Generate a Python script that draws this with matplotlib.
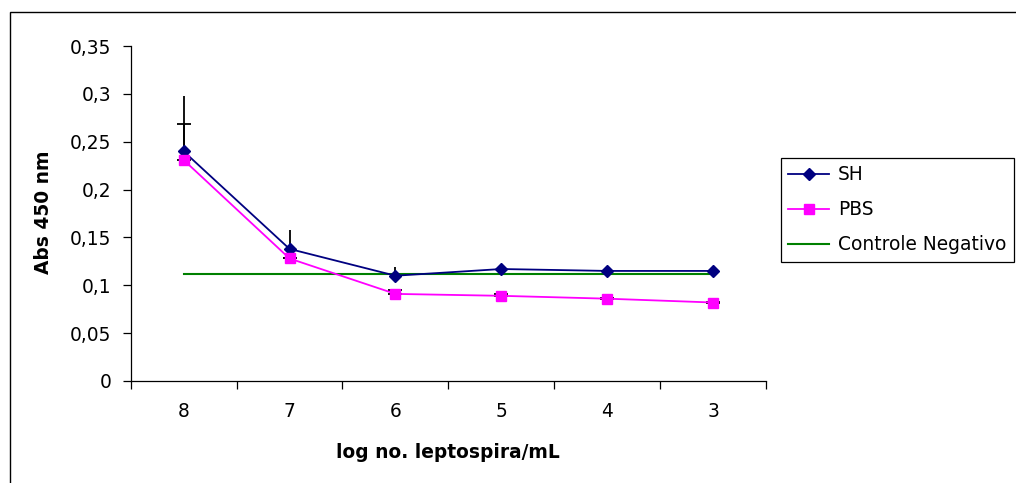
import matplotlib
matplotlib.use('Agg')
import matplotlib.pyplot as plt
from matplotlib.patches import Rectangle
import numpy as np

# ---- data ----
categories = ['8', '7', '6', '5', '4', '3']
sh_values = [0.240, 0.138, 0.110, 0.117, 0.115, 0.115]
sh_err_up = [0.058, 0.020, 0.009, 0.0, 0.0, 0.0]
pbs_values = [0.231, 0.128, 0.091, 0.089, 0.086, 0.082]
pbs_err_up = [0.037, 0.001, 0.004, 0.002, 0.001, 0.001]
control_values = [0.1115, 0.1115, 0.1115, 0.1115, 0.1115, 0.1115]
y_ticks = [0, 0.05, 0.1, 0.15, 0.2, 0.25, 0.3, 0.35]
y_tick_labels = ['0', '0,05', '0,1', '0,15', '0,2', '0,25', '0,3', '0,35']
series_names = ['SH', 'PBS', 'Controle Negativo']
x_label = 'log no. leptospira/mL'
y_label = 'Abs 450 nm'

plt.rcParams['font.family'] = ['DejaVu Sans']
FS = 13.4

W, H = 1016, 483
fig = plt.figure(figsize=(W / 100, H / 100), dpi=100)
ax = fig.add_axes([130.6 / W, 1 - 381 / H, (766.2 - 130.6) / W, (381 - 46) / H])

x = np.arange(len(categories))
zeros = np.zeros(len(categories))

ctrl_line, = ax.plot(x, control_values, color='#008000', lw=1.5, zorder=2)
ax.errorbar(x, sh_values, yerr=[zeros, sh_err_up], fmt='none', ecolor='black',
            elinewidth=1.3, capsize=0, zorder=3)
ax.errorbar(x, pbs_values, yerr=[zeros, pbs_err_up], fmt='none', ecolor='black',
            elinewidth=1.3, capsize=5, capthick=1.3, zorder=3)
sh_line, = ax.plot(x, sh_values, color='#000080', marker='D', ms=6, lw=1.3,
                   mec='#000080', zorder=4)
pbs_line, = ax.plot(x, pbs_values, color='#FF00FF', marker='s', ms=7, lw=1.3,
                    mec='#FF00FF', zorder=5)

ax.set_ylim(0, 0.35)
ax.set_yticks(y_ticks)
ax.set_yticklabels(y_tick_labels, fontsize=FS)
ax.set_xlim(-0.5, len(categories) - 0.5)
ax.set_xticks(np.arange(-0.5, len(categories), 1.0))
ax.set_xticklabels([])
ax.set_xticks(x, minor=True)
ax.set_xticklabels(categories, minor=True, fontsize=FS)
ax.tick_params(axis='x', which='major', direction='out', length=6, width=0.9, color='black')
ax.tick_params(axis='x', which='minor', length=0, pad=15)
ax.tick_params(axis='y', direction='out', length=6, width=0.9, color='black', pad=8)

for s in ['top', 'right']:
    ax.spines[s].set_visible(False)
for s in ['left', 'bottom']:
    ax.spines[s].set_color('black')
    ax.spines[s].set_linewidth(0.9)

fig.text(448 / W, 1 - 452 / H, x_label, ha='center', va='center',
         fontsize=FS, fontweight='bold')
fig.text(43.5 / W, 1 - 212.5 / H, y_label, ha='center', va='center',
         rotation=90, fontsize=FS, fontweight='bold')

leg = ax.legend([sh_line, pbs_line, ctrl_line], series_names,
                loc='upper left', bbox_to_anchor=(781 / W, 1 - 158 / H),
                bbox_transform=fig.transFigure, frameon=True, fancybox=False,
                edgecolor='black', framealpha=1, borderaxespad=0,
                handlelength=2.2, handletextpad=0.45, labelspacing=0.85,
                borderpad=0.4, fontsize=FS)
leg.get_frame().set_linewidth(0.9)

fig.patches.append(Rectangle((9.5 / W, -0.1), 2, 1 - 11.5 / H + 0.1,
                             transform=fig.transFigure, fill=False,
                             ec='black', lw=1.0))

fig.savefig('out.png', dpi=100)
